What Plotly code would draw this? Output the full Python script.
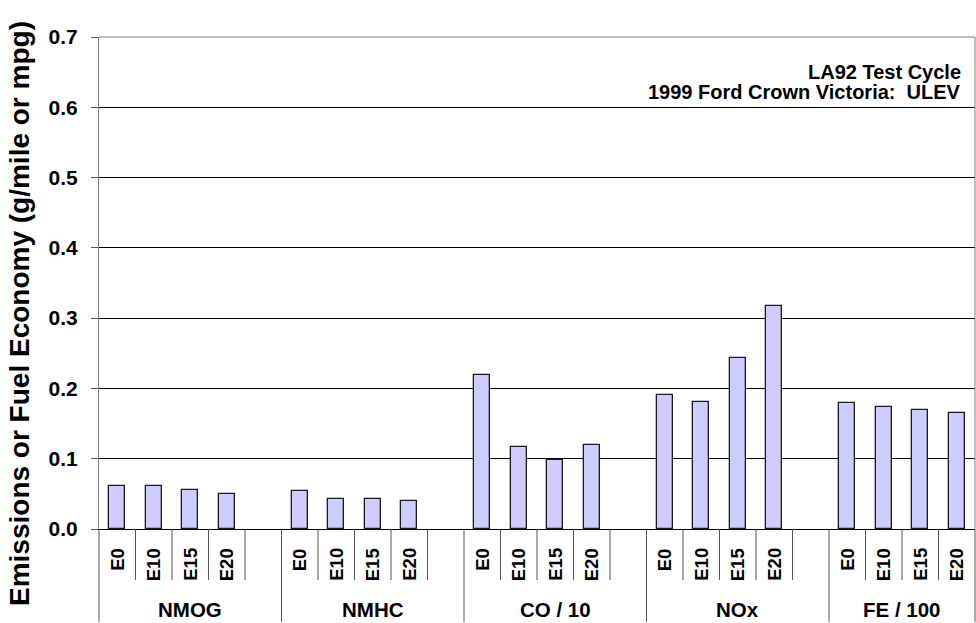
import plotly.graph_objects as go

# Emission results per pollutant group, one bar per ethanol blend
groups = ["NMOG", "NMHC", "CO / 10", "NOx", "FE / 100"]
fuels = ["E0", "E10", "E15", "E20"]

nmog = [0.061, 0.061, 0.056, 0.050]
nmhc = [0.054, 0.042, 0.043, 0.040]
co_div10 = [0.219, 0.117, 0.098, 0.120]
nox = [0.191, 0.181, 0.243, 0.317]
fe_div100 = [0.179, 0.174, 0.169, 0.165]

y_ticks = [0.0, 0.1, 0.2, 0.3, 0.4, 0.5, 0.6, 0.7]

values_by_group = [nmog, nmhc, co_div10, nox, fe_div100]

FONT = "Liberation Sans, Arial, sans-serif"
W, H = 976, 623
M_L, M_R, M_T, M_B = 99, 1, 37, 94

# each group gets one empty spacer slot after it (except the last)
slots_per_group = len(fuels) + 1
n_slots = slots_per_group * len(groups) - 1
x_min, x_max = -0.5, n_slots - 0.5


def slot(gi, fi):
    return gi * slots_per_group + fi


def to_paper(v):
    return (v - x_min) / (x_max - x_min)


xs, ys = [], []
for gi, vals in enumerate(values_by_group):
    for fi, v in enumerate(vals):
        xs.append(slot(gi, fi))
        ys.append(v)

fig = go.Figure()
fig.add_trace(go.Bar(
    x=xs, y=ys, width=0.43,
    marker=dict(color="#CCCCFF", line=dict(color="#1a1a1a", width=1.3)),
    hoverinfo="y",
))

shapes = []
# group separators (long) and slot separators (short) below the axis
group_edges = [slot(gi, 0) - 0.5 for gi in range(len(groups))] + [x_max]
for b in group_edges:
    shapes.append(dict(type="line", xref="paper", yref="paper",
                       x0=to_paper(b), x1=to_paper(b),
                       ysizemode="pixel", yanchor=0, y0=0, y1=-93,
                       line=dict(color="#555555", width=1)))
for k in range(n_slots - 1):
    b = k + 0.5
    if any(abs(b - e) < 1e-9 for e in group_edges):
        continue
    shapes.append(dict(type="line", xref="paper", yref="paper",
                       x0=to_paper(b), x1=to_paper(b),
                       ysizemode="pixel", yanchor=0, y0=0, y1=-51,
                       line=dict(color="#555555", width=1)))
# plot-area frame: top and right edges
shapes.append(dict(type="line", xref="paper", yref="paper", x0=0, x1=1, y0=1, y1=1,
                   line=dict(color="#808080", width=1), layer="above"))
shapes.append(dict(type="line", xref="paper", yref="paper", x0=1, x1=1, y0=0, y1=1,
                   line=dict(color="#808080", width=1), layer="above"))

annotations = []
# blend labels, rotated, hanging from the top of the label row
for gi in range(len(groups)):
    for fi, f in enumerate(fuels):
        annotations.append(dict(
            text=f, x=slot(gi, fi), xref="x", y=0, yref="paper",
            yshift=-17, xanchor="center", yanchor="top", textangle=-90,
            showarrow=False,
            font=dict(family=FONT, size=18.5, color="black", weight="bold"),
        ))
# group labels centred under each group
for gi, g in enumerate(groups):
    left = slot(gi, 0) - 0.5
    right = min(slot(gi, 0) + slots_per_group - 0.5, x_max)
    annotations.append(dict(
        text=g, x=(left + right) / 2, xref="x", y=0, yref="paper",
        yshift=-80, xanchor="center", yanchor="middle", showarrow=False,
        font=dict(family=FONT, size=20.5, color="black", weight="bold"),
    ))

# y-axis title
annotations.append(dict(
    text="Emissions or Fuel Economy (g/mile or mpg)",
    xref="paper", x=0, xshift=-80, xanchor="center",
    yref="paper", y=(H - M_B - 314) / (H - M_T - M_B), yanchor="middle",
    textangle=-90, showarrow=False,
    font=dict(family=FONT, size=28, color="black", weight="bold"),
))

# test description in the upper right
annotations.append(dict(
    text="LA92 Test Cycle", xref="paper", x=1, xshift=-12, xanchor="right",
    yref="paper", y=1, yshift=-(71.5 - M_T), yanchor="middle", showarrow=False,
    font=dict(family=FONT, size=20, color="black", weight="bold"),
))
annotations.append(dict(
    text="1999 Ford Crown Victoria:\u00a0 ULEV", xref="paper", x=1, xshift=-12,
    xanchor="right", yref="paper", y=1, yshift=-(92 - M_T), yanchor="middle",
    showarrow=False,
    font=dict(family=FONT, size=20, color="black", weight="bold"),
))

fig.update_layout(
    width=W, height=H,
    margin=dict(l=M_L, r=M_R, t=M_T, b=M_B, pad=0),
    paper_bgcolor="white", plot_bgcolor="white",
    showlegend=False,
    bargap=0,
    shapes=shapes,
    annotations=annotations,
    xaxis=dict(range=[x_min, x_max], showticklabels=False, ticks="",
               showgrid=False, zeroline=False, showline=True,
               linecolor="black", linewidth=1, automargin=False,
               fixedrange=True),
    yaxis=dict(range=[0, 0.7], tickvals=y_ticks,
               ticktext=[f"{v:.1f}" for v in y_ticks],
               ticks="outside", ticklen=7, tickcolor="#555555", tickwidth=1,
               ticklabelstandoff=9,
               showgrid=True, gridcolor="black", gridwidth=1,
               zeroline=False, showline=True, linecolor="#808080", linewidth=1,
               tickfont=dict(family=FONT, size=21, color="black", weight="bold"),
               automargin=False, fixedrange=True),
)

fig.write_html("out.html")
